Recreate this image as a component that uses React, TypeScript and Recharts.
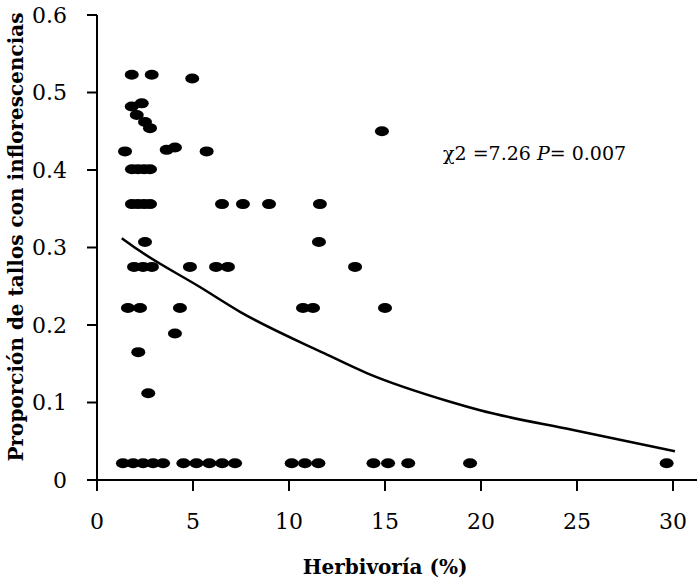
import { ScatterChart, Scatter, XAxis, YAxis } from 'recharts';

// puntos observados (herbivoría %, proporción de tallos con inflorescencias)
const herbivoria = [
  1.81, 2.85, 4.96,
  1.81, 2.33, 2.07, 2.5, 2.76,
  1.46, 3.63, 4.06, 5.71, 14.84,
  1.82, 2.13, 2.45, 2.76,
  1.82, 2.13, 2.45, 2.76, 6.51, 7.6, 8.96, 11.61,
  2.5, 11.56,
  1.93, 2.4, 2.86, 4.84, 6.2, 6.82, 13.44,
  1.61, 2.24, 4.32, 10.73, 11.25, 15.0,
  4.06, 2.15, 2.67,
  1.35, 1.88, 2.4, 2.92, 3.44, 4.5, 5.18, 5.85, 6.52, 7.19,
  10.14, 10.83, 11.53, 14.4, 15.16, 16.21, 19.43, 29.67,
];
const proporcion = [
  0.523, 0.523, 0.518,
  0.482, 0.486, 0.471, 0.462, 0.454,
  0.424, 0.426, 0.429, 0.424, 0.45,
  0.401, 0.401, 0.401, 0.401,
  0.356, 0.356, 0.356, 0.356, 0.356, 0.356, 0.356, 0.356,
  0.307, 0.307,
  0.275, 0.275, 0.275, 0.275, 0.275, 0.275, 0.275,
  0.222, 0.222, 0.222, 0.222, 0.222, 0.222,
  0.189, 0.165, 0.112,
  0.0215, 0.0215, 0.0215, 0.0215, 0.0215, 0.0215, 0.0215, 0.0215, 0.0215, 0.0215,
  0.0215, 0.0215, 0.0215, 0.0215, 0.0215, 0.0215, 0.0215, 0.0215,
];

// curva ajustada
const curvaX = [1.29, 2.14, 5.36, 7.45, 11.88, 14.05, 18.39, 19.95, 24.8, 30.1];
const curvaY = [0.312, 0.297, 0.249, 0.217, 0.163, 0.138, 0.101, 0.09, 0.0645, 0.037];

const xTicks = [0, 5, 10, 15, 20, 25, 30];
const yTicks = [0, 0.1, 0.2, 0.3, 0.4, 0.5, 0.6];

const puntos = herbivoria.map((x, i) => ({ x, y: proporcion[i] }));
const curva = curvaX.map((x, i) => ({ x, y: curvaY[i] }));

const font = 'DejaVu Serif';

const Punto = (props: any) => (
  <ellipse cx={props.cx} cy={props.cy} rx={7} ry={5} fill="#000" />
);

const TituloY = () => (
  <text
    x={16}
    y={237}
    transform="rotate(-90, 16, 237)"
    textAnchor="middle"
    dominantBaseline="central"
    fill="#000"
    style={{ fontFamily: font, fontSize: 20, fontWeight: 'bold' }}
  >
    Proporción de tallos con inflorescencias
  </text>
);

export default function App() {
  return (
    <div style={{ position: 'absolute', left: 0, top: 0, width: 697, height: 586, background: '#fff' }}>
      <ScatterChart width={697} height={586} margin={{ top: 15, right: 0, bottom: 0, left: 0 }}>
        <XAxis
          type="number"
          dataKey="x"
          domain={[0, 31.25]}
          ticks={xTicks}
          allowDataOverflow
          height={106}
          stroke="#000"
          strokeWidth={2}
          tickSize={11}
          tickMargin={22}
          tick={{ fill: '#000', fontSize: 22, style: { fontFamily: font } }}
          label={{
            value: 'Herbivoría (%)',
            position: 'insideBottom',
            offset: 12,
            dx: -12,
            style: { fill: '#000', fontSize: 20, fontWeight: 'bold', fontFamily: font },
          }}
        />
        <YAxis
          type="number"
          dataKey="y"
          domain={[0, 0.6]}
          ticks={yTicks}
          width={97}
          stroke="#000"
          strokeWidth={2}
          tickSize={10}
          tickMargin={20}
          tickFormatter={(v: number) => (v === 0 ? '0' : String(v))}
          tick={{ fill: '#000', fontSize: 22, style: { fontFamily: font } }}
          label={{ content: <TituloY /> }}
        />
        <Scatter data={puntos} shape={Punto} isAnimationActive={false} />
        <Scatter
          data={curva}
          line={{ stroke: '#000', strokeWidth: 2.5 }}
          lineJointType="monotoneX"
          shape={() => null}
          isAnimationActive={false}
        />
      </ScatterChart>
      <div
        style={{
          position: 'absolute',
          left: 443,
          top: 142,
          fontFamily: font,
          fontSize: 19,
          color: '#000',
          whiteSpace: 'nowrap',
        }}
      >
        χ2 =7.26 <i>P</i>= 0.007
      </div>
    </div>
  );
}
